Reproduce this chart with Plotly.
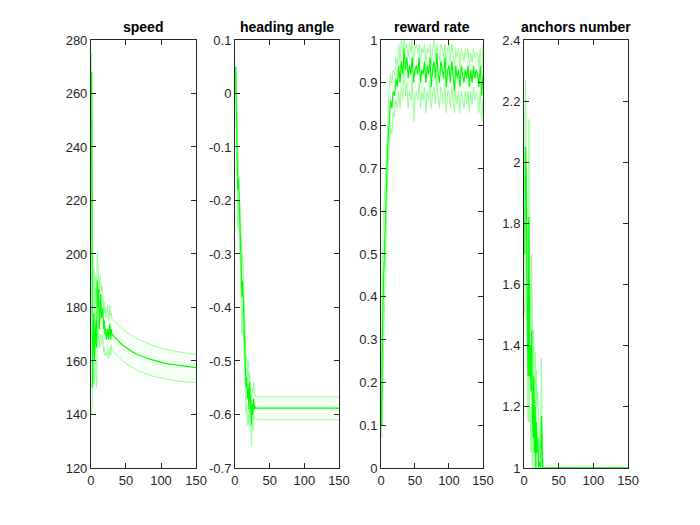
import plotly.graph_objects as go

# ---- data ----
titles = ['speed', 'heading angle', 'reward rate', 'anchors number']

# speed: every episode up to 30, then every 5
speed_x = list(range(1, 31)) + list(range(35, 151, 5))
speed_mean = [268, 150, 165, 178, 160, 170, 175, 165, 190, 180,
              187, 172, 180, 185, 176, 178, 180, 172, 175, 170,
              172, 168, 170, 172, 168, 170, 174, 168, 172, 170,
              168.5, 167.2, 166.0, 165.0, 164.1, 163.3, 162.6, 162.0, 161.5, 161.0,
              160.6, 160.2, 159.8, 159.5, 159.2, 158.9, 158.7, 158.5, 158.3, 158.1,
              157.9, 157.8, 157.6, 157.5]
speed_upper = [275, 200, 180, 195, 185, 175, 192, 185, 201, 196,
               195, 185, 192, 190, 186, 188, 185, 180, 182, 178,
               180, 176, 178, 181, 175, 176, 181, 177, 178, 176,
               174.5, 173.2, 172.0, 171.0, 170.0, 169.2, 168.4, 167.8, 167.2, 166.6,
               166.1, 165.6, 165.2, 164.8, 164.5, 164.2, 163.9, 163.6, 163.4, 163.2,
               163.0, 162.8, 162.6, 162.5]
speed_lower = [140, 148, 150, 160, 151, 158, 160, 150, 170, 168,
               175, 165, 168, 170, 166, 168, 170, 163, 165, 162,
               163, 162, 163, 164, 161, 162, 165, 162, 166, 164,
               162.5, 161.2, 160.0, 159.0, 158.1, 157.3, 156.6, 156.0, 155.5, 155.0,
               154.6, 154.2, 153.9, 153.6, 153.3, 153.0, 152.8, 152.6, 152.4, 152.3,
               152.2, 152.1, 152.0, 151.9]

heading_x = list(range(1, 31)) + [150]
heading_mean = [0.05, -0.05, -0.15, -0.18, -0.16, -0.22, -0.25, -0.28, -0.32, -0.38,
                -0.35, -0.40, -0.45, -0.50, -0.52, -0.55, -0.53, -0.57, -0.55, -0.59,
                -0.54, -0.57, -0.60, -0.62, -0.58, -0.60, -0.57, -0.59, -0.585, -0.588,
                -0.588]
heading_upper = [0.05, 0.0, -0.07, -0.10, -0.12, -0.18, -0.20, -0.22, -0.28, -0.32,
                 -0.30, -0.35, -0.40, -0.45, -0.48, -0.50, -0.49, -0.53, -0.50, -0.55,
                 -0.52, -0.54, -0.56, -0.58, -0.55, -0.56, -0.54, -0.565, -0.567, -0.567,
                 -0.567]
heading_lower = [0.05, -0.10, -0.22, -0.25, -0.20, -0.28, -0.30, -0.32, -0.38, -0.45,
                 -0.40, -0.45, -0.50, -0.55, -0.58, -0.60, -0.58, -0.62, -0.60, -0.62,
                 -0.58, -0.61, -0.64, -0.66, -0.62, -0.63, -0.60, -0.61, -0.61, -0.61,
                 -0.61]

reward_x = [1] + list(range(2, 151, 2))
reward_mean = [0.10, 0.30, 0.45, 0.58, 0.66, 0.75, 0.82, 0.86, 0.84, 0.88,
               0.87, 0.91, 0.89, 0.94, 0.90, 0.95, 0.92, 0.98, 0.93, 0.96,
               0.91, 0.94, 0.92, 0.96, 0.90, 0.93, 0.94, 0.92, 0.96, 0.90,
               0.93, 0.92, 0.95, 0.90, 0.94, 0.92, 0.96, 0.89, 0.93, 0.95,
               0.91, 0.97, 0.92, 0.90, 0.95, 0.93, 0.91, 0.96, 0.89, 0.93,
               0.94, 0.90, 0.95, 0.92, 0.88, 0.94, 0.91, 0.93, 0.89, 0.94,
               0.92, 0.90, 0.93, 0.91, 0.94, 0.89, 0.93, 0.90, 0.94, 0.91,
               0.93, 0.92, 0.89, 0.94, 0.87, 0.92]
reward_upper = [0.13, 0.45, 0.60, 0.66, 0.73, 0.80, 0.88, 0.92, 0.90, 0.93,
                0.92, 0.96, 0.94, 0.99, 0.95, 1.00, 0.97, 1.00, 0.98, 0.99,
                0.96, 0.99, 0.97, 1.00, 0.95, 0.98, 0.99, 0.97, 0.99, 0.95,
                0.98, 0.97, 0.99, 0.95, 0.98, 0.97, 0.99, 0.94, 0.98, 1.00,
                0.96, 0.99, 0.97, 0.95, 0.99, 0.98, 0.96, 0.99, 0.94, 0.98,
                0.99, 0.95, 0.99, 0.97, 0.93, 0.98, 0.96, 0.98, 0.94, 0.98,
                0.97, 0.95, 0.98, 0.96, 0.98, 0.94, 0.97, 0.95, 0.98, 0.96,
                0.97, 0.97, 0.94, 0.98, 0.92, 0.99]
reward_lower = [0.07, 0.15, 0.30, 0.50, 0.58, 0.68, 0.75, 0.80, 0.78, 0.83,
                0.82, 0.86, 0.84, 0.88, 0.84, 0.89, 0.86, 0.94, 0.87, 0.90,
                0.84, 0.88, 0.86, 0.91, 0.81, 0.87, 0.88, 0.86, 0.90, 0.84,
                0.88, 0.86, 0.89, 0.83, 0.88, 0.86, 0.90, 0.84, 0.88, 0.89,
                0.85, 0.92, 0.86, 0.84, 0.89, 0.88, 0.85, 0.90, 0.83, 0.88,
                0.88, 0.84, 0.89, 0.86, 0.83, 0.88, 0.85, 0.88, 0.83, 0.88,
                0.86, 0.84, 0.88, 0.85, 0.88, 0.83, 0.88, 0.85, 0.89, 0.86,
                0.88, 0.87, 0.83, 0.88, 0.81, 0.86]

anchors_x = list(range(1, 28)) + [150]
anchors_mean = [1.70, 2.05, 1.95, 1.60, 1.45, 1.30, 1.82, 1.30, 1.40, 1.25,
                1.45, 1.20, 1.10, 1.30, 1.05, 1.20, 1.00, 1.15, 1.05, 1.10,
                1.00, 1.02, 1.00, 1.00, 1.17, 1.00, 1.00, 1.00]
anchors_upper = [1.90, 2.27, 2.10, 1.85, 1.65, 1.50, 2.14, 1.50, 1.60, 1.45,
                 1.70, 1.40, 1.30, 1.45, 1.20, 1.38, 1.15, 1.32, 1.20, 1.25,
                 1.10, 1.10, 1.05, 1.02, 1.36, 1.00, 1.00, 1.00]
anchors_lower = [1.50, 1.85, 1.80, 1.35, 1.25, 1.15, 1.50, 1.15, 1.20, 1.05,
                 1.20, 1.00, 1.00, 1.15, 1.00, 1.02, 1.00, 1.00, 1.00, 1.00,
                 1.00, 1.00, 1.00, 1.00, 1.00, 1.00, 1.00, 1.00]

x_ticks = [0, 50, 100, 150]
y_ticks = [
    [120, 140, 160, 180, 200, 220, 240, 260, 280],
    [-0.7, -0.6, -0.5, -0.4, -0.3, -0.2, -0.1, 0, 0.1],
    [0, 0.1, 0.2, 0.3, 0.4, 0.5, 0.6, 0.7, 0.8, 0.9, 1],
    [1, 1.2, 1.4, 1.6, 1.8, 2, 2.2, 2.4],
]
y_ranges = [[120, 280], [-0.7, 0.1], [0, 1], [1, 2.4]]

panels = [
    (speed_x, speed_mean, speed_upper, speed_lower),
    (heading_x, heading_mean, heading_upper, heading_lower),
    (reward_x, reward_mean, reward_upper, reward_lower),
    (anchors_x, anchors_mean, anchors_upper, anchors_lower),
]

# axes boxes in paper fractions (matlab 1x4 subplot layout),
# figure is 692x517 because the page body adds an 8px margin
W, H = 692, 517
x_domains = [[0.1199, 0.2717], [0.3280, 0.4783], [0.5390, 0.6864], [0.7457, 0.8960]]
y_domain = [0.1103, 0.9381]

MEAN = '#00ff00'
BOUND = '#96ff96'
FILL = 'rgba(0,255,0,0.04)'
AX = '#262626'

fig = go.Figure()
layout = {}

for i, (xs, m, up, lo) in enumerate(panels):
    n = '' if i == 0 else str(i + 1)
    xa, ya = 'x' + n, 'y' + n
    fig.add_trace(go.Scatter(x=xs, y=lo, mode='lines', xaxis=xa, yaxis=ya,
                             line=dict(color=BOUND, width=1), showlegend=False, hoverinfo='skip'))
    fig.add_trace(go.Scatter(x=xs, y=up, mode='lines', xaxis=xa, yaxis=ya,
                             fill='tonexty', fillcolor=FILL,
                             line=dict(color=BOUND, width=1), showlegend=False, hoverinfo='skip'))
    fig.add_trace(go.Scatter(x=xs, y=m, mode='lines', xaxis=xa, yaxis=ya,
                             line=dict(color=MEAN, width=1.2), showlegend=False))

    common = dict(showline=True, linecolor=AX, linewidth=1, mirror='ticks',
                  ticks='inside', ticklen=5, tickcolor=AX, showgrid=False, zeroline=False,
                  automargin=False,
                  tickfont=dict(family='Liberation Sans', size=13, color=AX))
    layout['xaxis' + n] = dict(domain=x_domains[i], range=[0, 150], anchor=ya,
                               tickvals=x_ticks, ticktext=['%g' % v for v in x_ticks], **common)
    layout['yaxis' + n] = dict(domain=y_domain, range=y_ranges[i], anchor=xa,
                               tickvals=y_ticks[i], ticktext=['%g' % v for v in y_ticks[i]], **common)

    fig.add_annotation(text='<b>' + titles[i] + '</b>', xref='paper', yref='paper',
                       x=sum(x_domains[i]) / 2, y=y_domain[1], yshift=3,
                       xanchor='center', yanchor='bottom', showarrow=False,
                       font=dict(family='Liberation Sans', size=14, color='black'))

fig.update_layout(**layout)
fig.update_layout(
    width=W, height=H,
    margin=dict(l=0, r=0, t=0, b=0, pad=0, autoexpand=False),
    paper_bgcolor='white', plot_bgcolor='white',
    showlegend=False,
)

fig.write_html("out.html")
